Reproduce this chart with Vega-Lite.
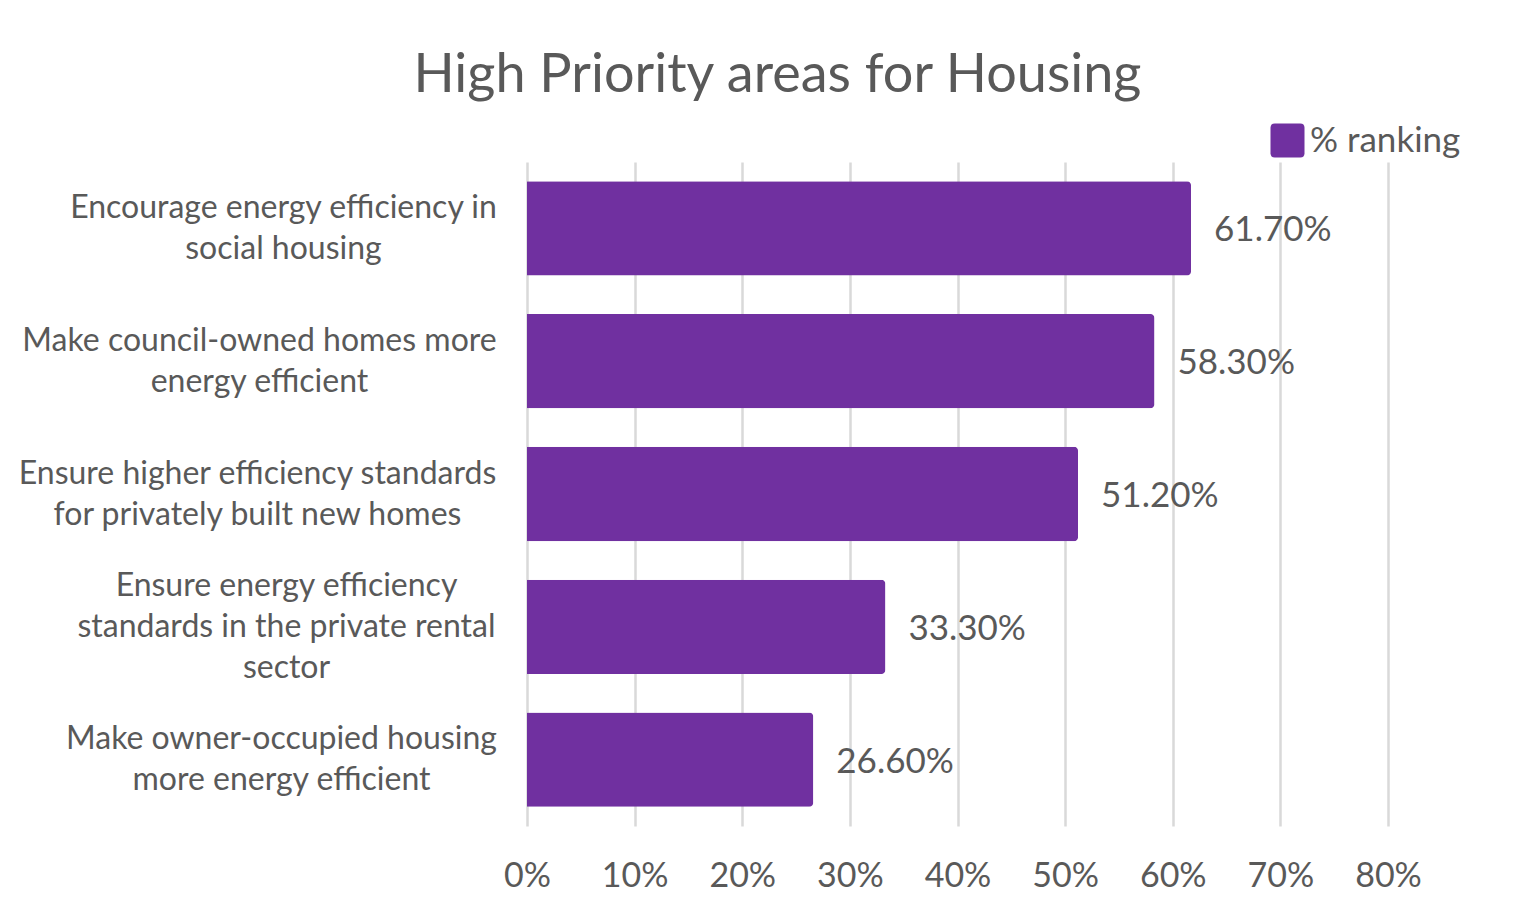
{
  "$schema": "https://vega.github.io/schema/vega-lite/v6.json",
  "width": 861,
  "height": 664,
  "autosize": {"type": "none"},
  "padding": {"left": 527, "top": 162, "right": 141, "bottom": 97},
  "background": "white",
  "title": {
    "text": "High Priority areas for Housing",
    "font": "Lato",
    "fontSize": 54,
    "fontWeight": "normal",
    "color": "#595959",
    "anchor": "middle",
    "baseline": "alphabetic",
    "dx": -180,
    "offset": -23
  },
  "data": {
    "values": [
      {"area": "Encourage energy efficiency in|social housing", "value": 0.617, "series": "% ranking"},
      {"area": "Make council-owned homes more|energy efficient", "value": 0.583, "series": "% ranking"},
      {"area": "Ensure higher efficiency standards|for privately built new homes", "value": 0.512, "series": "% ranking"},
      {"area": "Ensure energy efficiency|standards in the private rental|sector", "value": 0.333, "series": "% ranking"},
      {"area": "Make owner-occupied housing|more energy efficient", "value": 0.266, "series": "% ranking"}
    ]
  },
  "encoding": {
    "y": {
      "field": "area",
      "type": "nominal",
      "sort": null,
      "title": null,
      "scale": {"paddingInner": 0.29, "paddingOuter": 0.145},
      "axis": {
        "domain": false,
        "ticks": false,
        "grid": false,
        "labelExpr": "split(datum.value, '|')",
        "labelAlign": "center",
        "labelBaseline": "middle",
        "labelPadding": 244,
        "labelFont": "Lato",
        "labelFontSize": 32,
        "labelLineHeight": 41,
        "labelColor": "#595959",
        "labelLimit": 0,
        "encoding": {
          "labels": {
            "dx": {"value": {"signal": "indexof(datum.value, 'Make council') == 0 ? -24 : indexof(datum.value, 'Ensure higher') == 0 ? -26 : indexof(datum.value, 'Ensure energy') == 0 ? 3 : indexof(datum.value, 'Make owner') == 0 ? -2 : 0"}},
            "dy": {"value": {"signal": "-(length(split(datum.value, '|')) - 1) * 20.5"}}
          }
        }
      }
    },
    "x": {
      "field": "value",
      "type": "quantitative",
      "title": null,
      "scale": {"domain": [0, 0.8], "nice": false},
      "axis": {
        "format": ".0%",
        "values": [0, 0.1, 0.2, 0.3, 0.4, 0.5, 0.6, 0.7, 0.8],
        "domain": false,
        "ticks": false,
        "grid": true,
        "gridColor": "#d9d9d9",
        "gridWidth": 2.5,
        "labelFlush": false,
        "labelFont": "Lato",
        "labelFontSize": 34,
        "labelColor": "#595959",
        "labelPadding": 50,
        "labelBaseline": "middle"
      }
    }
  },
  "layer": [
    {
      "mark": {"type": "bar", "cornerRadiusEnd": 4},
      "encoding": {
        "color": {
          "field": "series",
          "type": "nominal",
          "scale": {"range": ["#7030A0"]},
          "legend": {
            "title": null,
            "orient": "none",
            "legendX": 743,
            "legendY": -39,
            "padding": 0,
            "symbolType": "M-0.75,-1H0.75Q1,-1 1,-0.75V0.75Q1,1 0.75,1H-0.75Q-1,1 -1,0.75V-0.75Q-1,-1 -0.75,-1Z",
            "symbolSize": 1156,
            "symbolStrokeWidth": 0,
            "labelFont": "Lato",
            "labelFontSize": 35,
            "labelColor": "#595959",
            "labelOffset": 5
          }
        }
      }
    },
    {
      "mark": {
        "type": "text",
        "align": "left",
        "baseline": "middle",
        "dx": 23,
        "dy": 2,
        "font": "Lato",
        "fontSize": 35,
        "color": "#595959"
      },
      "encoding": {
        "text": {"field": "value", "type": "quantitative", "format": ".2%"}
      }
    }
  ],
  "config": {
    "view": {"stroke": null}
  }
}
